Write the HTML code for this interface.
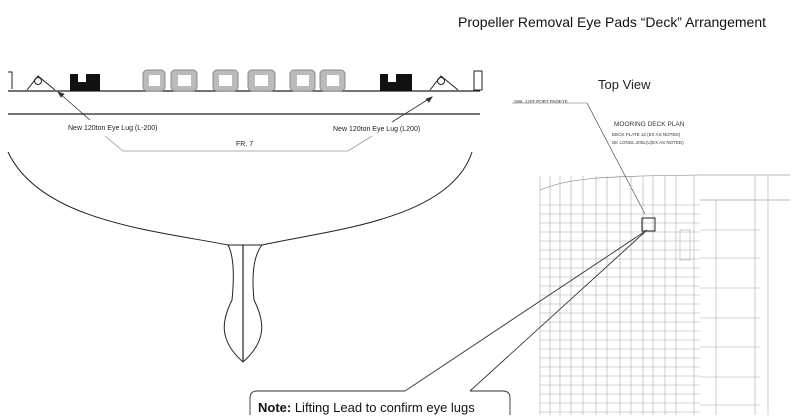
<!DOCTYPE html>
<html><head><style>
body{margin:0;width:801px;height:415px;overflow:hidden;background:#fff;font-family:"Liberation Sans",sans-serif}
</style></head><body>
<svg width="801" height="415" xmlns="http://www.w3.org/2000/svg" font-family="Liberation Sans, sans-serif">
<text x="458" y="27" font-size="14" fill="#111" textLength="308">Propeller Removal Eye Pads “Deck” Arrangement</text>
<text x="598" y="89" font-size="13" fill="#222">Top View</text>
<g stroke="#222" fill="none">
<path d="M8 72 H12 V89" stroke-width="1"/>
<line x1="8" y1="91" x2="480" y2="91" stroke-width="1.2"/>
<line x1="8" y1="114" x2="480" y2="114" stroke-width="1.2"/>
<rect x="474" y="71" width="8" height="19" stroke-width="1"/>
<path d="M8 152 C40 220 150 230 228 245" stroke-width="1"/>
<path d="M472 152 C450 220 330 230 262 245" stroke-width="1"/>
<path d="M228 245 H262" stroke-width="1"/>
<path d="M228 245 C236 260 233 290 232 300 C222 320 218 340 243 362 C268 340 264 320 254 300 C253 290 250 260 262 245" stroke-width="1"/>
<line x1="243" y1="245" x2="243" y2="362" stroke-width="1.2"/>
<path d="M27 90 L38 76 L55 90" stroke-width="1"/>
<circle cx="38" cy="81" r="3.5"/>
<path d="M430 90 L441 76 L458 90" stroke-width="1"/>
<circle cx="441" cy="81" r="3.5"/>
</g>
<g fill="#111">
<path d="M70 74 H78 V82 H86 V74 H100 V91 H70Z"/>
<path d="M380 74 H388 V82 H396 V74 H412 V91 H380Z"/>
</g>
<g fill="#bbb" stroke="#888">
<rect x="143" y="70" width="22" height="21" rx="4"/><rect x="171" y="70" width="26" height="21" rx="4"/>
<rect x="213" y="70" width="25" height="21" rx="4"/><rect x="248" y="70" width="27" height="21" rx="4"/>
<rect x="290" y="70" width="25" height="21" rx="4"/><rect x="320" y="70" width="25" height="21" rx="4"/>
</g>
<g fill="#fff"><rect x="149" y="75" width="11" height="11"/><rect x="178" y="75" width="13" height="11"/><rect x="219" y="75" width="13" height="11"/><rect x="255" y="75" width="13" height="11"/><rect x="297" y="75" width="12" height="11"/><rect x="327" y="75" width="12" height="11"/></g>
<g stroke="#333" stroke-width="0.8" fill="none">
<line x1="90" y1="120" x2="58" y2="92"/><path d="M58 92 l6 2 l-3 3z" fill="#333"/>
<line x1="392" y1="122" x2="432" y2="97"/><path d="M432 97 l-3 5 l-3-3z" fill="#333"/>
<path d="M105 136 L123 151 H348 L372 136" stroke="#999"/>
</g>
<g font-size="7" fill="#222">
<text x="68" y="130">New 120ton Eye Lug (L-200)</text>
<text x="333" y="131">New 120ton Eye Lug (L200)</text>
<text x="236" y="146">FR. 7</text>
</g>
<g font-size="4.5" fill="#333">
<text x="514" y="103">SWL 120T PORT PADEYE</text>
<text x="614" y="126" font-size="6.5">MOORING DECK PLAN</text>
<text x="612" y="136">DECK PLATE 12 (EX AS NOTED)</text>
<text x="612" y="144">DK LONGL 200L(U)EX AS NOTED)</text>
</g>
<g stroke="#aaa" stroke-width="0.6" fill="none">
<line x1="512" y1="103" x2="587" y2="103" stroke="#666"/>
<line x1="587" y1="103" x2="645" y2="214" stroke="#333"/>
<path d="M540 190 C570 178 600 176 700 175 H790" stroke="#777"/>
<line x1="700" y1="200" x2="790" y2="200" stroke="#777"/>
<path d="M540 176 V415 M550 176 V415 M560 176 V415 M571 176 V415 M583 176 V415 M596 176 V415 M607 176 V415 M620 176 V415 M631 176 V415 M643 176 V415 M653 176 V415 M665 176 V415 M676 176 V415 M694 176 V415 M716 200 V415 M755 176 V415 M768 176 V415"/>
<path d="M540 205 H700 M540 214 H700 M540 223 H700 M540 232 H700 M540 241 H700 M540 250 H700 M540 259 H700 M540 268 H700 M540 277 H700 M540 286 H700 M540 295 H700 M540 304 H700 M540 313 H700 M540 322 H700 M540 331 H700 M540 340 H700 M540 349 H700 M540 358 H700 M540 367 H700 M540 376 H700 M540 385 H700 M540 394 H700 M540 403 H700 M540 412 H700"/>
<path d="M700 230 H760 M700 258 H760 M700 288 H760 M700 318 H760 M700 347 H760 M700 377 H760 M700 405 H760"/>
<rect x="680" y="230" width="10" height="30"/>
</g>
<rect x="642" y="218" width="13" height="13" fill="none" stroke="#222" stroke-width="1"/>
<g stroke="#333" stroke-width="0.9" fill="none">
<path d="M405 391 L647 230 L470 391"/>
<path d="M250 415 V398 Q250 391 257 391 H405 M470 391 H503 Q510 391 510 398 V415"/>
</g>
<text x="258" y="412" font-size="13" fill="#111"><tspan font-weight="bold">Note:</tspan> Lifting Lead to confirm eye lugs</text>
</svg>
</body></html>
